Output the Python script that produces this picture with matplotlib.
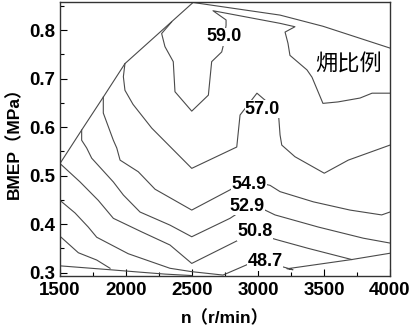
import matplotlib
matplotlib.use('Agg')
import matplotlib.pyplot as plt
from matplotlib.ticker import MultipleLocator

plt.rcParams['font.family'] = ['Liberation Sans', 'Noto Sans CJK SC']

# contour paths: n (r/min), BMEP (MPa)
edge_n = [1500, 1664, 1828, 1992, 2508, 3167, 3492, 4000]
edge_p = [0.525, 0.594, 0.662, 0.731, 0.857, 0.831, 0.808, 0.763]

c590_n = [2346, 2270, 2295, 2358, 2371, 2498, 2624, 2649, 2725, 2735, 2758, 2758, 2659,
          3167, 3280, 3205, 3227, 3242, 3371, 3409, 3492, 3606, 3773, 3864, 4000]
c590_p = [0.817, 0.793, 0.766, 0.735, 0.673, 0.633, 0.666, 0.735, 0.755, 0.766, 0.810, 0.821, 0.840,
          0.814, 0.807, 0.796, 0.773, 0.748, 0.718, 0.703, 0.649, 0.652, 0.660, 0.670, 0.670]

c570_n = [1992, 1980, 1992, 2053, 2195, 2498, 2839, 2864, 2992, 3154, 3167, 3180, 3280, 3502, 3684, 4000]
c570_p = [0.731, 0.704, 0.676, 0.647, 0.598, 0.515, 0.559, 0.625, 0.670, 0.632, 0.584, 0.563, 0.539,
          0.505, 0.532, 0.563]

c549_n = [1828, 1828, 1866, 1904, 1930, 1955, 2093, 2220, 2498, 2811, 2947, 3091, 3167, 3419, 3697, 3937, 4000]
c549_p = [0.662, 0.629, 0.601, 0.573, 0.557, 0.532, 0.508, 0.472, 0.429, 0.474, 0.489, 0.480, 0.467,
          0.446, 0.429, 0.419, 0.425]

c529_n = [1664, 1664, 1702, 1740, 1904, 1980, 2106, 2333, 2498, 2788, 2917, 3053, 3129, 3457, 3798, 4000]
c529_p = [0.594, 0.573, 0.557, 0.536, 0.487, 0.460, 0.425, 0.398, 0.374, 0.412, 0.435, 0.429, 0.419,
          0.394, 0.371, 0.361]

c508_n = [1500, 1652, 1790, 1904, 2119, 2333, 2498, 2851, 3000, 3154, 3381, 3710]
c508_p = [0.525, 0.487, 0.449, 0.412, 0.384, 0.357, 0.319, 0.367, 0.379, 0.367, 0.350, 0.327]

c487_n = [1500, 1614, 1714, 1778, 2017, 2333, 2498, 2735, 2939, 3053, 3174, 3265, 3220, 3710, 4000]
c487_p = [0.449, 0.423, 0.394, 0.373, 0.339, 0.309, 0.302, 0.295, 0.319, 0.322, 0.313, 0.306, 0.308,
          0.327, 0.340]

low1_n = [1500, 1639, 1778, 1879]
low1_p = [0.375, 0.341, 0.326, 0.309]
low2_n = [1500, 1879, 2106, 2295, 2498]
low2_p = [0.314, 0.306, 0.301, 0.297, 0.294]

labels = ['59.0', '57.0', '54.9', '52.9', '50.8', '48.7']
label_n = [2745, 3034, 2932, 2917, 2977, 3053]
label_p = [0.786, 0.637, 0.481, 0.437, 0.384, 0.322]

fig = plt.figure(figsize=(4.13, 3.34), dpi=100)
ax = fig.add_axes([0.1453, 0.175, 0.799, 0.819])

lc = '#4a4a4a'
for xs, ys in [(edge_n, edge_p), (c590_n, c590_p), (c570_n, c570_p), (c549_n, c549_p),
               (c529_n, c529_p), (c508_n, c508_p), (c487_n, c487_p),
               (low1_n, low1_p), (low2_n, low2_p)]:
    ax.plot(xs, ys, color=lc, lw=0.8, zorder=2)

for s, x, y in zip(labels, label_n, label_p):
    ax.text(x, y, s, ha='center', va='center', fontsize=13, fontweight='bold', zorder=4,
            bbox=dict(fc='white', ec='none', pad=0.3))

ax.text(3682, 0.730, '㶲比例', ha='center', va='center', fontsize=16,
        family=['Noto Sans CJK SC', 'DejaVu Sans'], zorder=4)

ax.set_xlim(1500, 4000)
ax.set_ylim(0.294, 0.858)
ax.set_xticks([1500, 2000, 2500, 3000, 3500, 4000])
ax.set_yticks([0.3, 0.4, 0.5, 0.6, 0.7, 0.8])
ax.xaxis.set_minor_locator(MultipleLocator(250))
ax.yaxis.set_minor_locator(MultipleLocator(0.05))
ax.tick_params(which='both', direction='in', labelsize=13.5)
ax.tick_params(which='major', length=5, width=0.8)
ax.tick_params(which='minor', length=3, width=0.8)
ax.tick_params(axis='x', pad=5)
for lab in ax.get_xticklabels() + ax.get_yticklabels():
    lab.set_fontweight('bold')
for sp in ax.spines.values():
    sp.set_linewidth(1.0)
    sp.set_color('#333333')

ax.set_xlabel('n（r/min）', fontsize=12.5, fontweight='bold', labelpad=7)
ax.set_ylabel('BMEP（MPa）', fontsize=12.5, fontweight='bold', labelpad=5)

fig.savefig('out.png', dpi=100)
